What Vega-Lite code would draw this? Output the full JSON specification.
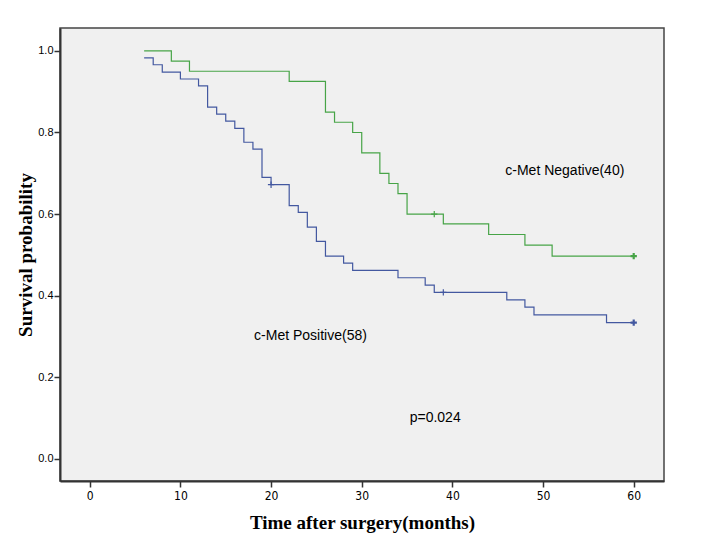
{
  "$schema": "https://vega.github.io/schema/vega-lite/v6.json",
  "autosize": {"type": "none"},
  "padding": {"left": 60, "top": 28, "right": 47, "bottom": 65},
  "width": 604,
  "height": 453,
  "background": "white",
  "datasets": {
    "km": [
      {"group": "Negative", "time": 6, "surv": 1.0},
      {"group": "Negative", "time": 9, "surv": 0.975},
      {"group": "Negative", "time": 11, "surv": 0.95},
      {"group": "Negative", "time": 22, "surv": 0.925},
      {"group": "Negative", "time": 26, "surv": 0.85},
      {"group": "Negative", "time": 27, "surv": 0.825},
      {"group": "Negative", "time": 29, "surv": 0.8},
      {"group": "Negative", "time": 30, "surv": 0.75},
      {"group": "Negative", "time": 32, "surv": 0.7},
      {"group": "Negative", "time": 33, "surv": 0.675},
      {"group": "Negative", "time": 34, "surv": 0.65},
      {"group": "Negative", "time": 35, "surv": 0.6},
      {"group": "Negative", "time": 39, "surv": 0.576},
      {"group": "Negative", "time": 44, "surv": 0.55},
      {"group": "Negative", "time": 48, "surv": 0.524},
      {"group": "Negative", "time": 51, "surv": 0.497},
      {"group": "Negative", "time": 60, "surv": 0.497},
      {"group": "Positive", "time": 6, "surv": 0.983},
      {"group": "Positive", "time": 7, "surv": 0.966},
      {"group": "Positive", "time": 8, "surv": 0.948},
      {"group": "Positive", "time": 10, "surv": 0.931},
      {"group": "Positive", "time": 12, "surv": 0.914},
      {"group": "Positive", "time": 13, "surv": 0.862},
      {"group": "Positive", "time": 14, "surv": 0.845},
      {"group": "Positive", "time": 15, "surv": 0.828},
      {"group": "Positive", "time": 16, "surv": 0.81},
      {"group": "Positive", "time": 17, "surv": 0.776},
      {"group": "Positive", "time": 18, "surv": 0.759},
      {"group": "Positive", "time": 19, "surv": 0.69},
      {"group": "Positive", "time": 20, "surv": 0.672},
      {"group": "Positive", "time": 22, "surv": 0.621},
      {"group": "Positive", "time": 23, "surv": 0.604},
      {"group": "Positive", "time": 24, "surv": 0.568},
      {"group": "Positive", "time": 25, "surv": 0.533},
      {"group": "Positive", "time": 26, "surv": 0.497},
      {"group": "Positive", "time": 28, "surv": 0.48},
      {"group": "Positive", "time": 29, "surv": 0.462},
      {"group": "Positive", "time": 34, "surv": 0.444},
      {"group": "Positive", "time": 37, "surv": 0.426},
      {"group": "Positive", "time": 38, "surv": 0.408},
      {"group": "Positive", "time": 46, "surv": 0.39},
      {"group": "Positive", "time": 48, "surv": 0.372},
      {"group": "Positive", "time": 49, "surv": 0.353},
      {"group": "Positive", "time": 57, "surv": 0.334},
      {"group": "Positive", "time": 60, "surv": 0.334}
    ],
    "censor": [
      {"group": "Negative", "time": 38, "surv": 0.6},
      {"group": "Negative", "time": 60, "surv": 0.497},
      {"group": "Positive", "time": 20, "surv": 0.672},
      {"group": "Positive", "time": 39, "surv": 0.408},
      {"group": "Positive", "time": 60, "surv": 0.334}
    ],
    "notes": [
      {"label": "c-Met Positive(58)", "time": 24.35, "surv": 0.301},
      {"label": "c-Met Negative(40)", "time": 52.4, "surv": 0.706},
      {"label": "p=0.024", "time": 38.1, "surv": 0.101}
    ]
  },
  "encoding": {
    "x": {
      "field": "time",
      "type": "quantitative",
      "scale": {"domain": [-3.28, 63.34], "nice": false, "zero": false},
      "axis": {
        "values": [0, 10, 20, 30, 40, 50, 60],
        "grid": false,
        "title": "Time after surgery(months)",
        "titleFont": "Liberation Serif",
        "titleFontWeight": "bold",
        "titleFontSize": 19,
        "titleColor": "black",
        "titleBaseline": "middle",
        "titleX": 302,
        "titleY": 41,
        "labelFont": "DejaVu Sans Condensed",
        "labelFontSize": 12,
        "labelColor": "black",
        "labelPadding": 3,
        "tickSize": 6,
        "tickWidth": 1.5,
        "tickColor": "#333333",
        "domainColor": "#333333",
        "domainWidth": 2
      }
    },
    "y": {
      "field": "surv",
      "type": "quantitative",
      "scale": {"domain": [-0.054, 1.056], "nice": false, "zero": false},
      "axis": {
        "values": [0, 0.2, 0.4, 0.6, 0.8, 1.0],
        "format": ".1f",
        "grid": false,
        "title": "Survival probability",
        "titleFont": "Liberation Serif",
        "titleFontWeight": "bold",
        "titleFontSize": 19,
        "titleColor": "black",
        "titleAngle": -90,
        "titleAlign": "center",
        "titleBaseline": "middle",
        "titleX": -35,
        "titleY": 226.5,
        "labelFont": "Liberation Sans",
        "labelFontSize": 11,
        "labelColor": "black",
        "labelPadding": 1,
        "tickSize": 6,
        "tickWidth": 1.5,
        "tickColor": "#333333",
        "domainColor": "#333333",
        "domainWidth": 2
      }
    }
  },
  "layer": [
    {
      "data": {"name": "km"},
      "mark": {"type": "line", "interpolate": "step-after", "strokeWidth": 1.2},
      "encoding": {
        "color": {
          "field": "group",
          "type": "nominal",
          "scale": {"domain": ["Positive", "Negative"], "range": ["#4358a0", "#47a447"]},
          "legend": null
        }
      }
    },
    {
      "data": {"name": "censor"},
      "mark": {"type": "point", "shape": "M-1,0H1M0,-1V1", "filled": false, "size": 40},
      "encoding": {
        "color": {
          "field": "group",
          "type": "nominal",
          "scale": {"domain": ["Positive", "Negative"], "range": ["#4358a0", "#47a447"]},
          "legend": null
        },
        "strokeWidth": {"condition": {"test": "datum.time >= 60", "value": 2.2}, "value": 1.2},
        "opacity": {"value": 1}
      }
    },
    {
      "data": {"name": "notes"},
      "mark": {"type": "text", "font": "Liberation Sans", "fontSize": 14, "color": "black", "align": "center", "baseline": "middle"},
      "encoding": {
        "text": {"field": "label"}
      }
    }
  ],
  "config": {
    "view": {"fill": "#f0f0f0", "stroke": "#444444", "strokeWidth": 1.5}
  }
}
